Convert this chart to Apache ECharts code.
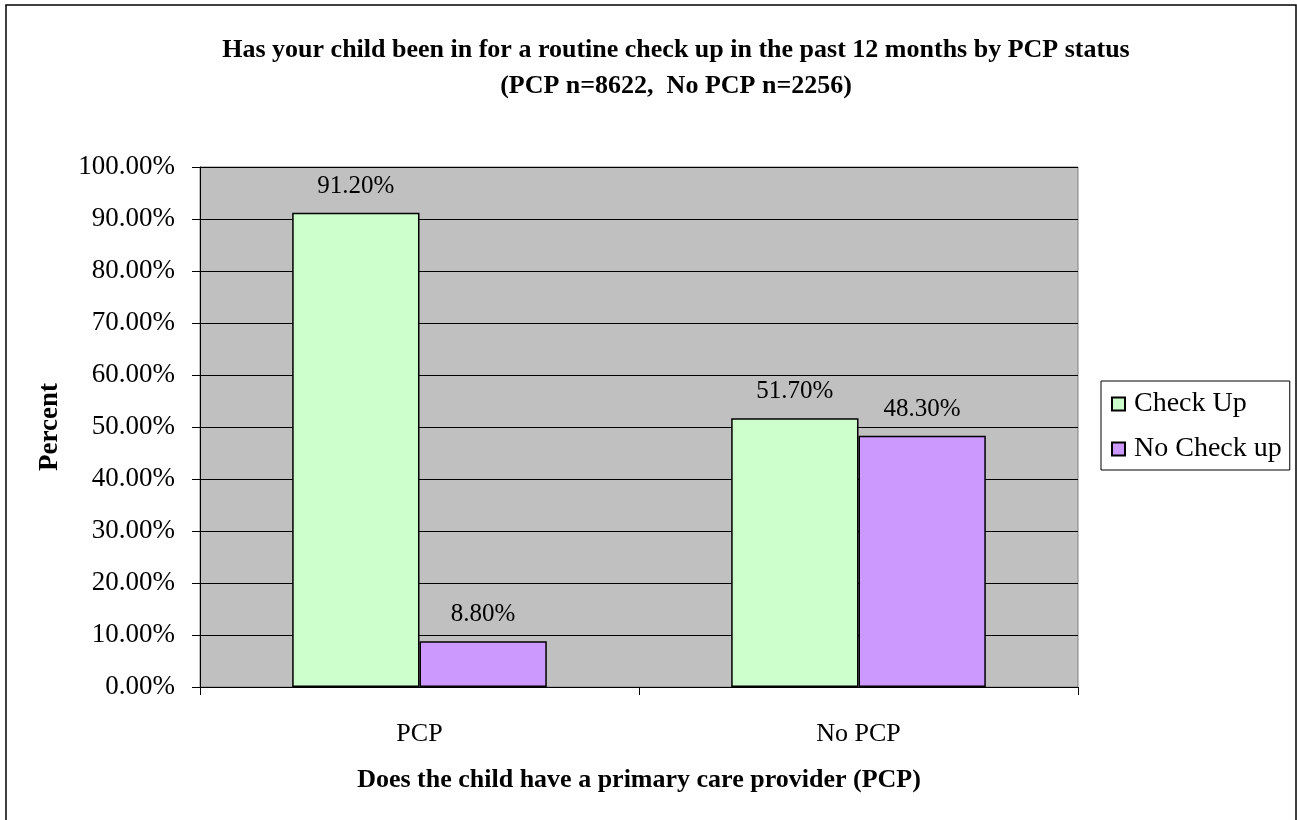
<!DOCTYPE html>
<html>
<head>
<meta charset="utf-8">
<script src="https://cdn.jsdelivr.net/npm/echarts@6/dist/echarts.min.js"></script>
<style>
  html, body { margin: 0; padding: 0; background: #fff; }
  #chart { width: 1297px; height: 820px; }
</style>
</head>
<body>
<div id="chart"></div>
<script>
// data
var categories = ['PCP', 'No PCP'];
var checkUp = [91.2, 51.7];
var noCheckUp = [8.8, 48.3];
var seriesNames = ['Check Up', 'No Check up'];

var chart = echarts.init(document.getElementById('chart'));
var serif = '"Liberation Serif", "Times New Roman", serif';

var labelOpt = {
  show: true,
  position: 'top',
  distance: 14,
  color: '#000',
  fontFamily: serif,
  fontSize: 25,
  formatter: function (p) { return p.value.toFixed(2) + '%'; }
};

var option = {
  backgroundColor: '#fff',
  animation: false,
  title: {
    text: 'Has your child been in for a routine check up in the past 12 months by PCP status\n(PCP n=8622,  No PCP n=2256)',
    left: 671,
    textAlign: 'center',
    top: 27,
    textStyle: {
      fontFamily: serif,
      fontSize: 26,
      fontWeight: 'bold',
      color: '#000',
      lineHeight: 36
    }
  },
  legend: {
    orient: 'vertical',
    left: 1101,
    top: 381,
    padding: [9, 8, 7, 10],
    itemGap: 17,
    itemWidth: 13,
    itemHeight: 13,
    borderColor: '#000',
    borderWidth: 1,
    icon: 'rect',
    textStyle: { fontFamily: serif, fontSize: 28, color: '#000', padding: [0, 0, 0, 4] },
    data: seriesNames
  },
  grid: {
    left: 200,
    right: 219,
    top: 167,
    bottom: 133,
    show: true,
    backgroundColor: '#C0C0C0',
    borderColor: '#808080',
    borderWidth: 1
  },
  xAxis: {
    type: 'category',
    data: categories,
    name: 'Does the child have a primary care provider (PCP)',
    nameLocation: 'middle',
    nameGap: 80,
    nameTextStyle: { fontFamily: serif, fontSize: 26, fontWeight: 'bold', color: '#000' },
    axisLine: { lineStyle: { color: '#000', width: 1 } },
    axisTick: { show: true, length: 8, lineStyle: { color: '#000' } },
    axisLabel: { fontFamily: serif, fontSize: 26, color: '#000', margin: 34 }
  },
  yAxis: {
    type: 'value',
    min: 0,
    max: 100,
    interval: 10,
    name: 'Percent',
    nameLocation: 'middle',
    nameGap: 136,
    nameRotate: 90,
    nameTextStyle: { fontFamily: serif, fontSize: 27, fontWeight: 'bold', color: '#000' },
    axisLine: { show: true, lineStyle: { color: '#000', width: 1 } },
    axisTick: { show: true, length: 8, lineStyle: { color: '#000' } },
    splitLine: { show: true, lineStyle: { color: '#000', width: 1 } },
    axisLabel: {
      fontFamily: serif, fontSize: 27, color: '#000', margin: 25,
      formatter: function (v) { return v.toFixed(2) + '%'; }
    }
  },
  series: [
    {
      name: seriesNames[0],
      type: 'bar',
      data: checkUp,
      barGap: '0%',
      barCategoryGap: '42%',
      itemStyle: { color: '#CCFFCC', borderColor: '#000', borderWidth: 1.5 },
      label: labelOpt
    },
    {
      name: seriesNames[1],
      type: 'bar',
      data: noCheckUp,
      itemStyle: { color: '#CC99FF', borderColor: '#000', borderWidth: 1.5 },
      label: labelOpt
    }
  ],
  graphic: [
    {
      type: 'rect',
      silent: true,
      shape: { x: 6, y: 5, width: 1290, height: 830 },
      style: { fill: 'none', stroke: '#000', lineWidth: 1.5 }
    }
  ]
};

chart.setOption(option);
</script>
</body>
</html>
